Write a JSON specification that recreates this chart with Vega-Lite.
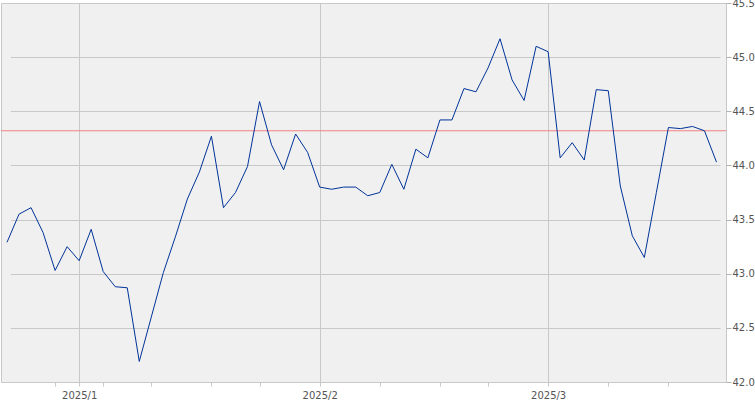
{
  "$schema": "https://vega.github.io/schema/vega-lite/v6.json",
  "width": 725,
  "height": 379,
  "autosize": "none",
  "padding": {"left": 1, "top": 3, "right": 29, "bottom": 18},
  "background": "white",
  "config": {
    "view": {"fill": "#f0f0f0", "stroke": "#c8c8c8", "strokeWidth": 1},
    "axis": {"labelFont": "DejaVu Sans", "labelFontSize": 10, "labelColor": "#555555", "title": null}
  },
  "datasets": {
    "ref": [{"level": 44.32}],
    "prices": [
      {"date": "2024-12-23", "close": 43.29},
      {"date": "2024-12-24", "close": 43.55},
      {"date": "2024-12-26", "close": 43.61},
      {"date": "2024-12-27", "close": 43.38},
      {"date": "2024-12-30", "close": 43.03},
      {"date": "2024-12-31", "close": 43.25},
      {"date": "2025-01-02", "close": 43.12},
      {"date": "2025-01-03", "close": 43.41},
      {"date": "2025-01-06", "close": 43.02},
      {"date": "2025-01-07", "close": 42.88},
      {"date": "2025-01-08", "close": 42.87},
      {"date": "2025-01-10", "close": 42.19},
      {"date": "2025-01-13", "close": 42.60},
      {"date": "2025-01-14", "close": 43.01},
      {"date": "2025-01-15", "close": 43.34},
      {"date": "2025-01-16", "close": 43.69},
      {"date": "2025-01-17", "close": 43.94},
      {"date": "2025-01-21", "close": 44.27},
      {"date": "2025-01-22", "close": 43.61},
      {"date": "2025-01-23", "close": 43.75},
      {"date": "2025-01-24", "close": 43.99},
      {"date": "2025-01-27", "close": 44.59},
      {"date": "2025-01-28", "close": 44.19},
      {"date": "2025-01-29", "close": 43.96},
      {"date": "2025-01-30", "close": 44.29},
      {"date": "2025-01-31", "close": 44.12},
      {"date": "2025-02-03", "close": 43.80},
      {"date": "2025-02-04", "close": 43.78},
      {"date": "2025-02-05", "close": 43.80},
      {"date": "2025-02-06", "close": 43.80},
      {"date": "2025-02-07", "close": 43.72},
      {"date": "2025-02-10", "close": 43.75},
      {"date": "2025-02-11", "close": 44.01},
      {"date": "2025-02-12", "close": 43.78},
      {"date": "2025-02-13", "close": 44.15},
      {"date": "2025-02-14", "close": 44.07},
      {"date": "2025-02-18", "close": 44.42},
      {"date": "2025-02-19", "close": 44.42},
      {"date": "2025-02-20", "close": 44.71},
      {"date": "2025-02-21", "close": 44.68},
      {"date": "2025-02-24", "close": 44.90},
      {"date": "2025-02-25", "close": 45.17},
      {"date": "2025-02-26", "close": 44.79},
      {"date": "2025-02-27", "close": 44.60},
      {"date": "2025-02-28", "close": 45.10},
      {"date": "2025-03-03", "close": 45.05},
      {"date": "2025-03-04", "close": 44.07},
      {"date": "2025-03-05", "close": 44.21},
      {"date": "2025-03-06", "close": 44.05},
      {"date": "2025-03-07", "close": 44.70},
      {"date": "2025-03-10", "close": 44.69},
      {"date": "2025-03-11", "close": 43.81},
      {"date": "2025-03-12", "close": 43.35},
      {"date": "2025-03-13", "close": 43.15},
      {"date": "2025-03-14", "close": 43.75},
      {"date": "2025-03-17", "close": 44.35},
      {"date": "2025-03-18", "close": 44.34},
      {"date": "2025-03-19", "close": 44.36},
      {"date": "2025-03-20", "close": 44.32},
      {"date": "2025-03-21", "close": 44.03}
    ]
  },
  "layer": [
    {
      "data": {"name": "prices"},
      "mark": {"type": "line", "color": "#003399", "strokeWidth": 1, "opacity": 0},
      "encoding": {
        "x": {
          "field": "date",
          "type": "ordinal",
          "sort": null,
          "scale": {"type": "point", "range": [6, 715.5], "padding": 0},
          "axis": {
            "values": ["2024-12-30", "2025-01-02", "2025-01-06", "2025-01-13", "2025-01-21", "2025-01-27", "2025-02-03", "2025-02-10", "2025-02-18", "2025-02-24", "2025-03-03", "2025-03-10", "2025-03-17"],
            "labelExpr": "datum.value == '2025-01-02' ? '2025/1' : datum.value == '2025-02-03' ? '2025/2' : datum.value == '2025-03-03' ? '2025/3' : ''",
            "labelAngle": 0,
            "grid": true,
            "gridColor": "#c8c8c8",
            "gridOpacity": {"condition": {"test": "indexof(['2025-01-02','2025-02-03','2025-03-03'], datum.value) >= 0", "value": 1}, "value": 0},
            "domain": false,
            "tickColor": "#c8c8c8",
            "tickSize": 4,
            "labelPadding": 4
          }
        },
        "y": {
          "field": "close",
          "type": "quantitative",
          "scale": {"domain": [42, 45.5], "nice": false, "zero": false},
          "axis": {
            "orient": "right",
            "values": [42, 42.5, 43, 43.5, 44, 44.5, 45, 45.5],
            "format": ".1f",
            "grid": true,
            "gridColor": "#c8c8c8",
            "domain": false,
            "tickColor": "#b0b0b0",
            "tickSize": 5,
            "labelPadding": 1
          }
        }
      }
    },
    {
      "data": {"name": "ref"},
      "mark": {"type": "rule", "color": "#f08080", "strokeWidth": 1},
      "encoding": {"y": {"field": "level", "type": "quantitative"}}
    },
    {
      "data": {"name": "prices"},
      "mark": {"type": "line", "color": "#003399", "strokeWidth": 1},
      "encoding": {
        "x": {"field": "date", "type": "ordinal", "sort": null},
        "y": {"field": "close", "type": "quantitative"}
      }
    }
  ]
}
